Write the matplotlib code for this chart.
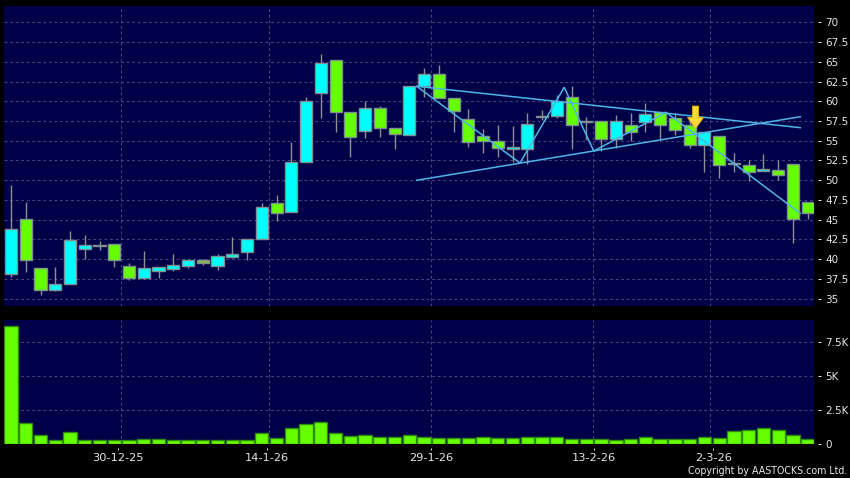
import matplotlib
matplotlib.use('Agg')
import matplotlib.pyplot as plt

# candles: body top and bottom, the colour code says which kind it is
body_top = [43.76, 45.03, 38.93, 36.9, 42.4, 41.73, 41.8, 41.85, 39.06, 38.93,
            39.02, 39.19, 39.82, 39.82, 40.33, 40.7, 42.49, 46.55, 47.06, 52.26,
            60.03, 64.85, 65.19, 58.59, 59.14, 59.14, 56.6, 61.93, 63.45, 63.45,
            60.4, 57.74, 55.58, 54.95, 54.19, 57.1, 58.12, 60.04, 60.5, 57.55,
            57.46, 57.46, 56.95, 58.39, 58.65, 57.88, 56.95, 56.15, 55.6, 52.14,
            51.92, 51.41, 51.29, 52.05, 47.23]
body_bot = [38.05, 39.82, 36.14, 36.1, 36.86, 41.3, 41.6, 39.82, 37.62, 37.62,
            38.55, 38.76, 39.15, 39.53, 39.15, 40.29, 40.84, 42.49, 45.87, 46.0,
            52.28, 61.04, 58.63, 55.46, 56.22, 56.6, 55.8, 55.71, 61.89, 60.4,
            58.76, 54.82, 54.95, 54.06, 53.93, 54.02, 58.0, 58.14, 56.95, 57.42,
            55.18, 55.18, 56.07, 57.34, 56.95, 56.36, 54.46, 54.46, 51.88, 52.02,
            51.03, 51.16, 50.6, 45.07, 45.83]
high = [49.4, 47.2, 38.93, 38.98, 43.55, 43.04, 42.3, 41.85, 39.48, 41.0,
        39.02, 40.63, 39.95, 40.0, 40.63, 42.74, 42.49, 47.1, 48.1, 54.86,
        60.57, 66.03, 65.19, 58.59, 60.07, 59.43, 56.6, 61.93, 64.26, 64.64,
        60.4, 59.05, 56.5, 57.0, 56.9, 58.5, 58.9, 60.8, 61.9, 58.0,
        57.46, 58.3, 58.56, 59.75, 58.65, 58.56, 57.46, 56.15, 55.6, 53.44,
        52.6, 53.32, 52.6, 52.05, 47.23]
low = [37.75, 38.4, 35.47, 35.97, 36.86, 39.95, 41.2, 39.0, 37.37, 37.45,
       37.62, 38.5, 38.9, 39.23, 38.6, 40.16, 39.9, 42.49, 44.86, 46.0,
       52.28, 57.9, 56.05, 53.0, 55.41, 55.5, 54.0, 55.71, 60.6, 60.4,
       56.05, 54.15, 53.5, 53.0, 52.37, 52.1, 57.66, 57.84, 54.0, 55.05,
       53.74, 54.08, 55.0, 56.07, 55.14, 55.77, 54.12, 50.99, 50.31, 50.99,
       49.85, 51.16, 50.06, 41.98, 45.07]
# 1 = cyan, 0 = green, 2 = grey doji, 3 = dull green
kind = [1, 0, 0, 1, 1, 1, 2, 0, 0, 1,
        1, 1, 1, 3, 1, 1, 1, 1, 0, 1,
        1, 1, 0, 0, 1, 0, 0, 1, 1, 0,
        0, 0, 0, 0, 1, 1, 2, 1, 0, 2,
        0, 1, 0, 1, 0, 0, 0, 1, 0, 2,
        0, 1, 0, 0, 0]
volume = [8690, 1537, 659, 317, 903, 317, 268, 268, 293, 342,
          342, 268, 317, 268, 317, 317, 317, 781, 464, 1147,
          1464, 1635, 781, 586, 634, 537, 537, 634, 488, 415,
          415, 464, 488, 415, 464, 488, 537, 537, 366, 366,
          390, 293, 366, 537, 390, 390, 366, 512, 439, 976,
          1049, 1147, 1049, 683, 342]

# drawn trend lines
line1_x = [27.5, 53.5]
line1_y = [61.91, 56.66]
line2_x = [27.5, 53.5]
line2_y = [49.99, 58.05]
zig_x = [27.5, 34.5, 37.5, 39.5, 44.4, 53.5]
zig_y = [61.91, 52.18, 61.78, 53.7, 58.6, 45.8]

price_ticks = [35, 37.5, 40, 42.5, 45, 47.5, 50, 52.5, 55, 57.5, 60, 62.5, 65, 67.5, 70]
price_labels = ['35', '37.5', '40', '42.5', '45', '47.5', '50', '52.5', '55', '57.5',
                '60', '62.5', '65', '67.5', '70']
vol_ticks = [0, 2500, 5000, 7500]
vol_labels = ['0', '2.5K', '5K', '7.5K']
date_ticks = [7.25, 17.36, 28.5, 39.5, 47.6]
date_labels = ['30-12-25', '14-1-26', '29-1-26', '13-2-26', '2-3-26']
date_grid = [7.48, 17.51, 28.47, 39.46, 47.4]

W, H = 850, 478
NAVY = '#000048'
GRID = '#44447a'
TXT = '#e6e6e6'
colors = {0: '#66ff00', 1: '#00ffff', 2: '#8a8a8a', 3: '#88c040'}


def panel(top, bottom):
    return [4 / W, 1 - bottom / H, (814 - 4) / W, (bottom - top) / H]


fig = plt.figure(figsize=(8.5, 4.78), dpi=100, facecolor='black')
ax = fig.add_axes(panel(6, 306), facecolor=NAVY)
ax2 = fig.add_axes(panel(320, 444), facecolor=NAVY)

xs = list(range(len(volume)))

# wicks first, bodies on top
ax.vlines(xs, low, high, color='#8f8f8f', lw=1, zorder=3)
ax.bar(xs, [t - b for t, b in zip(body_top, body_bot)], bottom=body_bot, width=0.82,
       color=[colors[c] for c in kind], edgecolor='#7f8f8f', linewidth=1, zorder=4)

for xv, yv in [(line1_x, line1_y), (line2_x, line2_y), (zig_x, zig_y)]:
    ax.plot(xv, yv, color='#4fb4e6', lw=1.1, zorder=5)

# the yellow arrow marker
ax.annotate('', xy=(46.4, 56.55), xytext=(46.4, 59.4), zorder=6,
            arrowprops=dict(width=4.4, headwidth=11.5, headlength=8,
                            facecolor='#ffd83c', edgecolor='#eeb020', linewidth=0.6))

ax2.bar(xs, volume, width=0.9, color='#66ff00', edgecolor='#2f8a10', linewidth=1, zorder=3)

for a in (ax, ax2):
    a.set_xlim(-0.475, 54.43)
    a.yaxis.tick_right()
    a.grid(axis='y', color=GRID, ls=(0, (2.5, 2.5)), lw=0.8, zorder=1)
    for xg in date_grid:
        a.axvline(xg, color=GRID, ls=(0, (2.5, 2.5)), lw=0.8, zorder=1)
    for s in a.spines.values():
        s.set_visible(False)
    a.spines['right'].set_position(('outward', 3))
    a.spines['bottom'].set_position(('outward', 3))
    a.tick_params(axis='y', colors=TXT, labelsize=7.5, length=2.5, width=0.7, pad=2.5)
    a.tick_params(axis='x', colors=TXT, labelsize=8.2, length=1.5, width=0.7, pad=2)

ax.set_ylim(34.05, 72.09)
ax.set_yticks(price_ticks, price_labels)
ax.set_xticks(date_ticks, [''] * len(date_ticks))
ax.tick_params(axis='x', length=0)

ax2.set_ylim(0, 9110)
ax2.set_yticks(vol_ticks, vol_labels)
ax2.set_xticks(date_ticks, date_labels)

fig.text(847 / W, 1 - 471.5 / H, 'Copyright by AASTOCKS.com Ltd.', color=TXT, fontsize=6.85,
         ha='right', va='center')

plt.savefig('out.png', dpi=100, facecolor='black')
